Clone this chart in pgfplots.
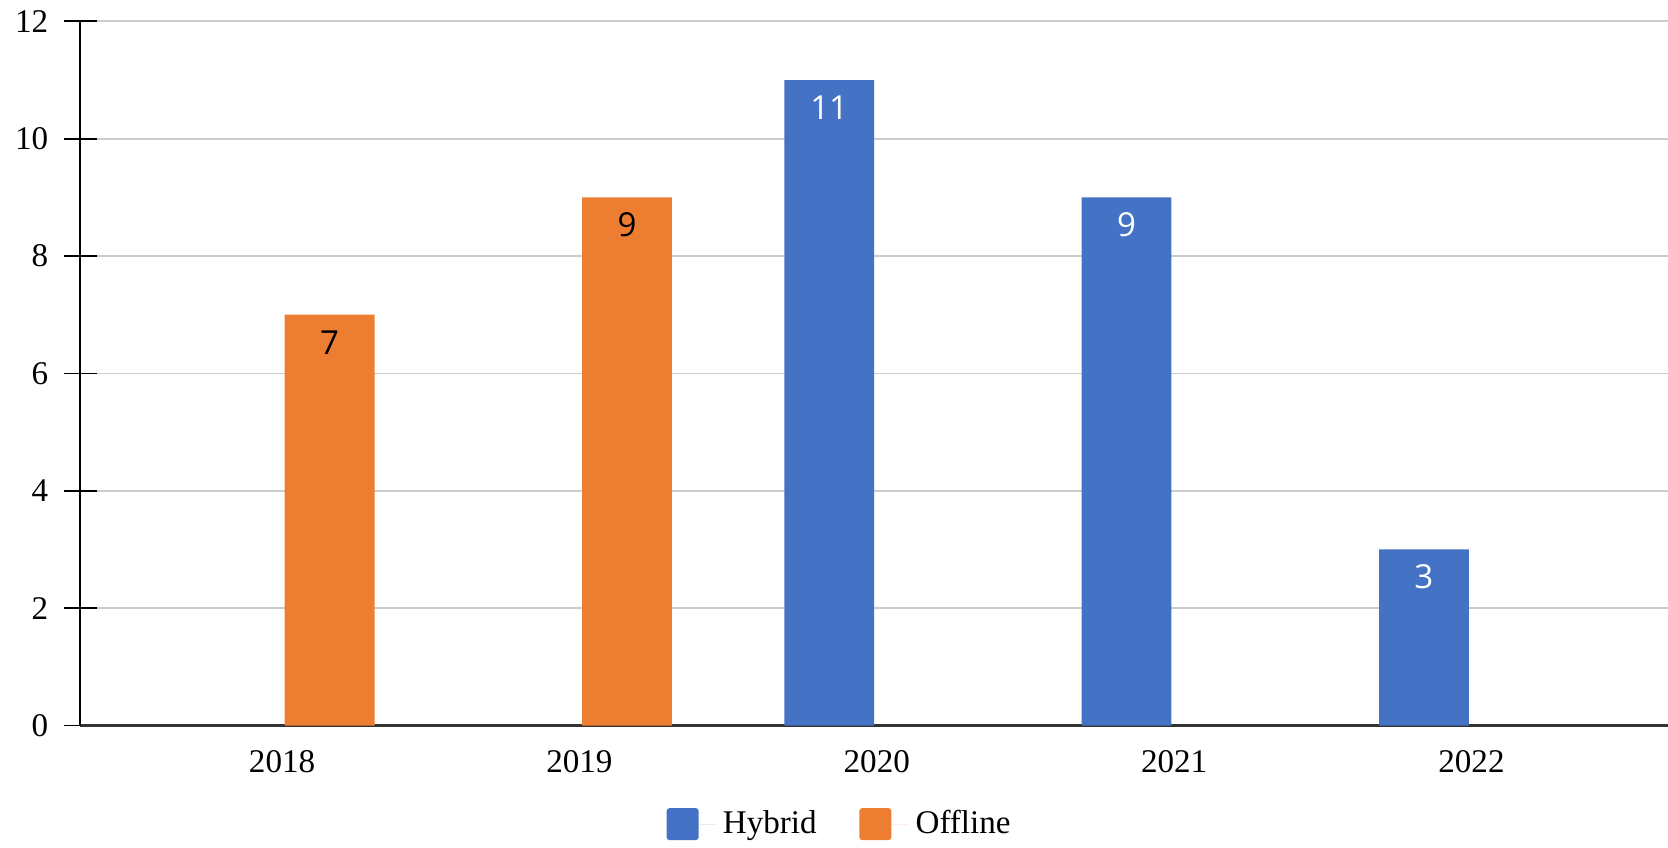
\documentclass[border=0pt]{standalone}
\usepackage{fontspec}
\setmainfont{Liberation Serif}
\newfontfamily\barfont{Open Sans}
\usepackage{pgfplots}
\pgfplotsset{compat=1.18}
\definecolor{hyb}{HTML}{4472C4}
\definecolor{off}{HTML}{ED7D31}
\definecolor{gridc}{HTML}{CCCCCC}

\begin{document}
\begin{tikzpicture}
\fontsize{9}{11}\selectfont
\begin{axis}[
  scale only axis,
  width=431.8pt, height=191.5pt,
  xmin=-0.679, xmax=4.661,
  ymin=0, ymax=12,
  ytick={0,2,...,12},
  xtick={0,1,2,3,4},
  xticklabels={2018,2019,2020,2021,2022},
  /pgf/number format/assume math mode=true,
  ticklabel style={font=\fontsize{9}{11}\selectfont},
  axis x line=bottom, axis y line=left,
  axis line style={-},
  x axis line style={black!80, line width=0.7pt},
  y axis line style={black, line width=0.6pt},
  xtick style={draw=none},
  ytick style={black, line width=0.5pt},
  tick align=center,
  major tick length=9pt,
  ymajorgrids,
  grid style={gridc, line width=0.45pt},
  xticklabel style={yshift=5.3pt},
  yticklabel style={xshift=-1pt},
  ybar,
  bar width=0.302,
  nodes near coords,
  every node near coord/.append style={font=\barfont\fontsize{9}{10}\selectfont, anchor=center, yshift=-7.5pt},
  legend columns=2,
  legend style={draw=none, at={(rel axis cs:0.480,-0.14)}, anchor=center,
    font=\fontsize{9}{11}\selectfont,
    /tikz/every even column/.append style={column sep=9.6pt}},
  legend image code/.code={\fill[#1, rounded corners=0.8pt] (0pt,-4.35pt) rectangle (8.7pt,4.35pt);
    \path (0pt,0pt) -- (13.3pt,0pt);},
]
\addplot[draw=none, fill=hyb, bar shift=-0.16,
  every node near coord/.append style={text=white}]
  coordinates {(2,11) (3,9) (4,3)};
\addplot[draw=none, fill=off, bar shift=0.16,
  every node near coord/.append style={text=black}]
  coordinates {(0,7) (1,9)};
\legend{Hybrid, Offline}
\coordinate (axbl) at (rel axis cs:0,0);
\coordinate (axtr) at (rel axis cs:1,1);
\end{axis}
\pgfresetboundingbox
\path ([xshift=-21.8pt,yshift=-33.3pt]axbl) rectangle ([yshift=5.8pt]axtr);
\end{tikzpicture}
\end{document}
